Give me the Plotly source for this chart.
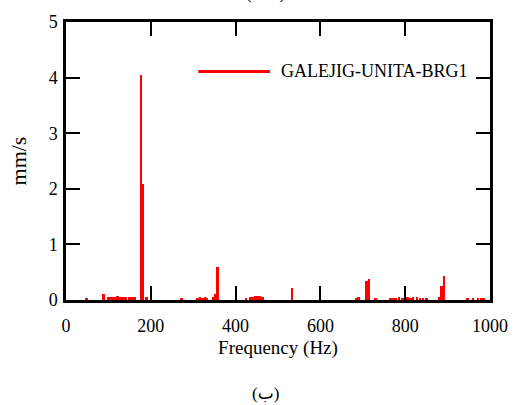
import plotly.graph_objects as go

freq_hz = [48, 89, 100, 105, 110, 115, 122, 128, 135, 142, 150, 157, 163,
           177, 182, 190, 273, 310, 316, 322, 328, 333, 347, 351, 357,
           424, 435, 441, 447, 452, 458, 464, 533, 685, 690, 709, 715, 730,
           765, 772, 778, 785, 792, 798, 805, 812, 818, 828, 835, 842, 850,
           880, 885, 891, 947, 960, 972, 980, 986]
amp_mms = [0.04, 0.10, 0.05, 0.06, 0.05, 0.06, 0.08, 0.06, 0.05, 0.05, 0.05, 0.05, 0.05,
           4.05, 2.09, 0.05, 0.03, 0.04, 0.05, 0.04, 0.05, 0.04, 0.06, 0.10, 0.60,
           0.03, 0.05, 0.06, 0.07, 0.08, 0.07, 0.06, 0.22, 0.03, 0.05, 0.35, 0.37, 0.03,
           0.03, 0.04, 0.04, 0.05, 0.04, 0.04, 0.05, 0.04, 0.05, 0.06, 0.04, 0.04, 0.03,
           0.05, 0.25, 0.43, 0.03, 0.03, 0.04, 0.03, 0.03]
series_name = "GALEJIG-UNITA-BRG1"
x_ticks = [0, 200, 400, 600, 800, 1000]
y_ticks = [0, 1, 2, 3, 4, 5]

FONT = "Liberation Serif"

fig = go.Figure()
fig.add_trace(go.Bar(x=freq_hz, y=amp_mms, width=6, marker=dict(color="#ff0000", line=dict(width=0)),
                     name=series_name, showlegend=False))

axis_common = dict(showline=True, linewidth=2.5, linecolor="black", mirror="ticks",
                   ticks="inside", ticklen=14, tickwidth=2, tickcolor="black",
                   showgrid=False, zeroline=False,
                   tickfont=dict(family=FONT, size=18, color="black"))

fig.update_xaxes(range=[0, 1000], tickvals=x_ticks, ticklabelstandoff=8, **axis_common,
                 title=dict(text="Frequency (Hz)", font=dict(family=FONT, size=19, color="black"), standoff=6))
fig.update_yaxes(range=[0, 5], tickvals=y_ticks, ticklabelstandoff=2, **axis_common,
                 title=dict(text="mm/s", font=dict(family=FONT, size=22, color="black"), standoff=16))

# manual legend
fig.add_shape(type="line", xref="paper", yref="paper", x0=0.312, x1=0.481, y0=0.822, y1=0.822,
              line=dict(color="#ff0000", width=3))
fig.add_annotation(xref="paper", yref="paper", x=0.502, y=0.822, xanchor="left", yanchor="middle",
                   text=series_name, showarrow=False, font=dict(family=FONT, size=18, color="black"))

# captions
fig.add_annotation(xref="paper", yref="paper", x=0.47, y=-0.335, xanchor="center", yanchor="middle",
                   text="(ب)", showarrow=False, font=dict(family=FONT + ", DejaVu Sans", size=17, color="black"))
fig.add_annotation(xref="paper", yref="paper", x=0.47, y=1.06, xanchor="center", yanchor="bottom",
                   text="(الف)", showarrow=False, font=dict(family=FONT + ", DejaVu Sans", size=17, color="black"))

fig.update_layout(width=520, height=405, margin=dict(l=66, r=23, t=19, b=105),
                  paper_bgcolor="white", plot_bgcolor="white", bargap=0)
fig.write_html("out.html")
